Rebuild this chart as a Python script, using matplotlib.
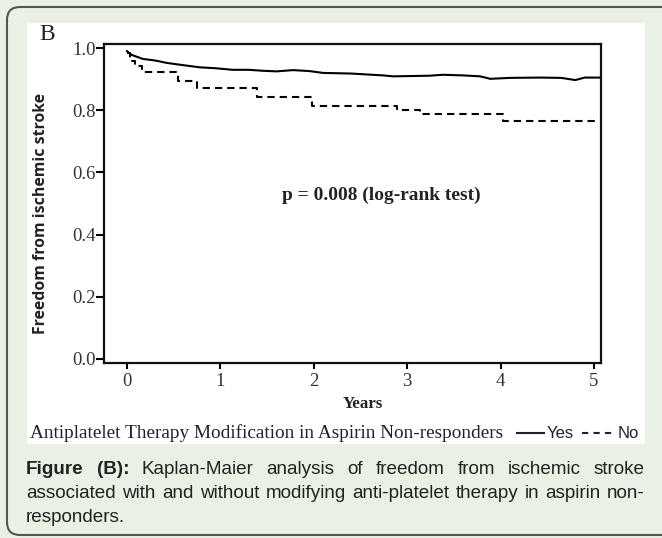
import matplotlib
matplotlib.use("Agg")
import matplotlib.pyplot as plt
import matplotlib.transforms as mtransforms
from matplotlib.patches import FancyBboxPatch, Rectangle
from matplotlib import font_manager

# ---------------- data ----------------
yes_t = [0.0, 0.05, 0.17, 0.30, 0.43, 0.60, 0.78, 0.95, 1.13, 1.30, 1.45, 1.60,
         1.78, 1.95, 2.10, 2.40, 2.74, 2.85, 3.05, 3.24, 3.38, 3.60, 3.78, 3.89,
         4.10, 4.42, 4.65, 4.80, 4.90, 5.07]
yes_s = [0.990, 0.978, 0.965, 0.960, 0.952, 0.945, 0.938, 0.935, 0.930, 0.930,
         0.927, 0.925, 0.929, 0.926, 0.920, 0.918, 0.912, 0.909, 0.910, 0.911,
         0.914, 0.912, 0.909, 0.901, 0.904, 0.905, 0.904, 0.897, 0.905, 0.905]
no_t = [0.0, 0.03, 0.09, 0.16, 0.55, 0.75, 1.39, 1.98, 2.89, 3.14, 4.03, 5.05]
no_s = [0.984, 0.957, 0.941, 0.922, 0.893, 0.872, 0.843, 0.815, 0.802, 0.788,
        0.765, 0.765]
x_ticks = [0, 1, 2, 3, 4, 5]
y_ticks = [0.0, 0.2, 0.4, 0.6, 0.8, 1.0]
y_tick_labels = ["0.0", "0.2", "0.4", "0.6", "0.8", "1.0"]

panel_letter = "B"
x_label = "Years"
y_label = "Freedom from ischemic stroke"
p_text = "p = 0.008 (log-rank test)"
legend_title = "Antiplatelet Therapy Modification in Aspirin Non-responders"
legend_yes = "Yes"
legend_no = "No"
caption_lines = [
    [("Figure", True), ("(B):", True), ("Kaplan-Maier", False), ("analysis", False),
     ("of", False), ("freedom", False), ("from", False), ("ischemic", False), ("stroke", False)],
    [(w, False) for w in "associated with and without modifying anti-platelet therapy in aspirin non-".split()],
    [(w, False) for w in "responders.".split()],
]

# ---------------- fonts ----------------
avail = {f.name for f in font_manager.fontManager.ttflist}
SERIF = "Liberation Serif"
SANS = "Liberation Sans"
BOLDSANS = "Open Sans" if "Open Sans" in avail else "DejaVu Sans"

W, H = 662, 538
fig = plt.figure(figsize=(W / 100, H / 100), dpi=100)
BG = "#e9f1e5"
fig.patch.set_facecolor(BG)
ident = mtransforms.IdentityTransform()

def fx(x):
    return x / W

def fy(y):
    return 1 - y / H

# outer rounded frame
frame = FancyBboxPatch((7, 3), 720, 528, boxstyle="round,pad=0,rounding_size=13",
                       transform=ident, facecolor=BG, edgecolor="#555555",
                       linewidth=1.5, zorder=0)
fig.patches.append(frame)
# white panel
panel = Rectangle((27, H - 444), 645 - 27, 444 - 23, transform=ident,
                  facecolor="white", edgecolor="none", zorder=1)
fig.patches.append(panel)

# ---------------- axes ----------------
ax = fig.add_axes([fx(104), fy(363), fx(601) - fx(104), fy(44) - fy(363)])
ax.set_zorder(3)
ax.set_facecolor("white")
ax.plot(yes_t, yes_s, color="black", lw=1.5, solid_joinstyle="round")
ax.step(no_t, no_s, where="post", color="black", lw=1.5, linestyle=(0, (3.5, 2.4)))
ax.set_xlim(-0.246, 5.075)
ax.set_ylim(-0.013, 1.013)
for s in ax.spines.values():
    s.set_linewidth(1.6)
    s.set_color("#111111")
ax.set_xticks(x_ticks)
ax.set_xticklabels([str(t) for t in x_ticks])
ax.set_yticks(y_ticks)
ax.set_yticklabels(y_tick_labels)
ax.tick_params(axis="y", length=5.5, width=1.5, pad=0.5, labelsize=13.5,
               labelcolor="#333333")
ax.tick_params(axis="x", length=4, width=1.5, pad=3.0, labelsize=13.5,
               labelcolor="#333333")
for lab in ax.get_xticklabels() + ax.get_yticklabels():
    lab.set_fontfamily(SERIF)

fig.canvas.draw()
renderer = fig.canvas.get_renderer()

def fit(t, target_w):
    bb = t.get_window_extent(renderer)
    t.set_fontsize(t.get_fontsize() * target_w / bb.width)
    return t

# texts
fig.text(fx(47), fy(35), panel_letter, family=SERIF, fontsize=17, color="#222222",
         ha="center", va="center", zorder=5)
t = fig.text(fx(41), fy(213), y_label, family=BOLDSANS, fontweight="bold", fontsize=10,
             rotation=90, ha="center", va="center", color="#222222", zorder=5)
fig.canvas.draw()
bb = t.get_window_extent(renderer)
t.set_fontsize(t.get_fontsize() * 240 / bb.height)

t = fig.text(fx(363), fy(404), x_label, family=SERIF, fontweight="bold", fontsize=12,
             ha="center", va="center", color="#222222", zorder=5)
fit(t, 40)
t = fig.text(fx(381), fy(195), p_text, family=SERIF, fontweight="bold", fontsize=13,
             ha="center", va="center", color="#222222", zorder=5)
fit(t, 196)
t = fig.text(fx(30), fy(433), legend_title, family=SERIF, fontsize=12,
             ha="left", va="center", color="#222222", zorder=5)
fit(t, 472)
leg_fs = 12
fig.lines.append(plt.Line2D([fx(517), fx(544)], [fy(433), fy(433)], transform=fig.transFigure,
                            color="#222222", lw=1.5, zorder=5))
fig.text(fx(547), fy(433), legend_yes, family=SANS, fontsize=leg_fs, ha="left",
         va="center", color="#222222", zorder=5)
fig.lines.append(plt.Line2D([fx(582), fx(612)], [fy(433), fy(433)], transform=fig.transFigure,
                            color="#222222", lw=1.5, linestyle=(0, (3, 2.5)), zorder=5))
fig.text(fx(618), fy(433), legend_no, family=SANS, fontsize=leg_fs, ha="left",
         va="center", color="#222222", zorder=5)

# justified caption; font size chosen so the second line nearly fills the width
x0, x1 = 26, 645
line_y = [470, 493, 518]
probe = fig.text(0, 0, " ".join(w for w, _ in caption_lines[1]), family=SANS, fontsize=12)
fig.canvas.draw()
cap_fs = 12 * 612 / probe.get_window_extent(renderer).width
probe.remove()
sp = fig.text(0, 0, "a a", family=SANS, fontsize=cap_fs)
sp2 = fig.text(0, 0, "aa", family=SANS, fontsize=cap_fs)
fig.canvas.draw()
space_w = sp.get_window_extent(renderer).width - sp2.get_window_extent(renderer).width
sp.remove(); sp2.remove()
for li, words in enumerate(caption_lines):
    objs = []
    for w, b in words:
        o = fig.text(0, fy(line_y[li]), w, family=SANS, fontsize=cap_fs,
                     fontweight="bold" if b else "normal", ha="left", va="center",
                     color="#222222", zorder=5)
        objs.append(o)
    fig.canvas.draw()
    widths = [o.get_window_extent(renderer).width for o in objs]
    if li < len(caption_lines) - 1 and len(objs) > 1:
        gap = (x1 - x0 - sum(widths)) / (len(objs) - 1)
    else:
        gap = space_w
    x = x0
    for o, w in zip(objs, widths):
        o.set_x(fx(x))
        x += w + gap

fig.savefig("out.png", dpi=100, facecolor=fig.get_facecolor())
